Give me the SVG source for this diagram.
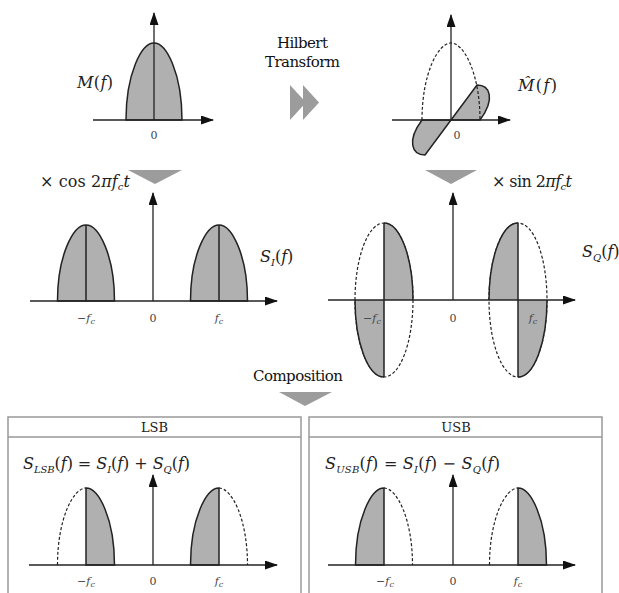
<svg xmlns="http://www.w3.org/2000/svg" width="619" height="593" viewBox="0 0 619 593">
<style>
.ax{stroke:#222;stroke-width:1.3;fill:none}
.ln{stroke:#222;stroke-width:1.5;fill:none}
.ds{stroke:#222;stroke-width:1.2;fill:none;stroke-dasharray:3 2}
.gf{fill:#b0b0b0;stroke:#222;stroke-width:1.5}
.gn{fill:#b0b0b0;stroke:none}
.tri{fill:#9c9c9c}
.box{fill:none;stroke:#999;stroke-width:1.5}
text{font-family:'DejaVu Serif','Liberation Serif',serif}
.m{font-style:italic;font-size:16px;fill:#222}
.r{font-size:15px;fill:#111}
.h{font-size:13px;fill:#222;text-anchor:middle}
.t{font-size:11px;fill:#444;text-anchor:middle}
</style>
<defs>
<marker id="ah" viewBox="0 0 13 9" refX="12" refY="4.5" markerWidth="13" markerHeight="9" markerUnits="userSpaceOnUse" orient="auto"><path d="M0,0 L13,4.5 L0,9 z" fill="#111"/></marker>
</defs>
<rect width="619" height="593" fill="#fff"/>

<g id="connectors">
<polygon class="tri" points="290,85 290,120 306,102.5"/>
<polygon class="tri" points="303,85 303,120 319,102.5"/>
<polygon class="tri" points="128,170 182,170 155,184"/>
<polygon class="tri" points="425,170 477,170 451,184"/>
<polygon class="tri" points="279,392 332,392 305,406"/>
</g>

<g id="hilbert-label">
<text class="r" x="277" y="48" textLength="51">Hilbert</text>
<text class="r" x="265" y="67" textLength="75">Transform</text>
</g>

<g id="node-M">
<path class="gf" d="M126,120 C126,73.8 141.4,43 154,43 C166.6,43 182,73.8 182,120 Z"/>
<line class="ax" x1="154" y1="120" x2="154" y2="13" marker-end="url(#ah)"/>
<line class="ax" x1="93" y1="120" x2="213" y2="120" marker-end="url(#ah)"/>
<text class="m" x="77" y="88" textLength="36">M<tspan font-style="normal">(</tspan>f<tspan font-style="normal">)</tspan></text>
<text class="t" x="154" y="139">0</text>
</g>

<g id="node-Mhat">
<path class="gf" d="M451,120 L477,85 C490,85 495.6,99 480,120 Z"/>
<path class="gf" d="M451,120 L425,155 C412,155 406.4,141 422,120 Z"/>
<path class="ds" d="M422,120 C422,73.8 438,43 451,43 C464,43 480,73.8 480,120"/>
<line class="ax" x1="451" y1="120" x2="451" y2="15" marker-end="url(#ah)"/>
<line class="ax" x1="392" y1="120" x2="510" y2="120" marker-end="url(#ah)"/>
<text class="m" x="518" y="91" textLength="39">M&#x302;<tspan font-style="normal">(</tspan>f<tspan font-style="normal">)</tspan></text>
<text class="t" x="457" y="139">0</text>
</g>

<g id="node-SI">
<text class="m" x="40" y="187" textLength="90" font-size="15"><tspan font-style="normal">× cos 2</tspan>πf<tspan font-size="10" dy="3">c</tspan><tspan dy="-3">t</tspan></text>
<path class="gf" d="M57.5,301 C57.5,255.4 73.2,225 86,225 C98.8,225 114.5,255.4 114.5,301 Z"/>
<path class="gf" d="M190.5,301 C190.5,255.4 206.2,225 219,225 C231.8,225 247.5,255.4 247.5,301 Z"/>
<line class="ln" x1="86" y1="225" x2="86" y2="301"/>
<line class="ln" x1="219" y1="225" x2="219" y2="301"/>
<line class="ax" x1="153" y1="301" x2="153" y2="193" marker-end="url(#ah)"/>
<line class="ax" x1="30" y1="301" x2="277" y2="301" marker-end="url(#ah)"/>
<text class="m" x="260" y="262">S<tspan font-size="10" dy="4">I</tspan><tspan dy="-4" font-style="normal">(</tspan>f<tspan font-style="normal">)</tspan></text>
<text class="t" x="86" y="322">−<tspan font-style="italic">f</tspan><tspan font-style="italic" font-size="8" dy="2">c</tspan></text>
<text class="t" x="153" y="322">0</text>
<text class="t" x="219" y="322"><tspan font-style="italic">f</tspan><tspan font-style="italic" font-size="8" dy="2">c</tspan></text>
</g>

<g id="node-SQ">
<text class="m" x="492" y="187" textLength="80" font-size="15"><tspan font-style="normal">× sin 2</tspan>πf<tspan font-size="10" dy="3">c</tspan><tspan dy="-3">t</tspan></text>
<ellipse class="ds" cx="384" cy="300" rx="29" ry="77"/>
<ellipse class="ds" cx="518" cy="300" rx="29" ry="77"/>
<path class="gn" d="M384,300 L384,223 A29,77 0 0 1 413,300 Z"/>
<path class="gn" d="M384,300 L384,377 A29,77 0 0 1 355,300 Z"/>
<path class="gn" d="M518,300 L518,223 A29,77 0 0 0 489,300 Z"/>
<path class="gn" d="M518,300 L518,377 A29,77 0 0 0 547,300 Z"/>
<path class="ln" d="M384,223 A29,77 0 0 1 413,300"/>
<path class="ln" d="M384,377 A29,77 0 0 1 355,300"/>
<path class="ln" d="M518,223 A29,77 0 0 0 489,300"/>
<path class="ln" d="M518,377 A29,77 0 0 0 547,300"/>
<line class="ln" x1="384" y1="223" x2="384" y2="377"/>
<line class="ln" x1="518" y1="223" x2="518" y2="377"/>
<line class="ax" x1="453" y1="300" x2="453" y2="193" marker-end="url(#ah)"/>
<line class="ax" x1="328" y1="300" x2="575" y2="300" marker-end="url(#ah)"/>
<text class="m" x="582" y="257">S<tspan font-size="10" dy="4">Q</tspan><tspan dy="-4" font-style="normal">(</tspan>f<tspan font-style="normal">)</tspan></text>
<text class="t" x="372" y="322">−<tspan font-style="italic">f</tspan><tspan font-style="italic" font-size="8" dy="2">c</tspan></text>
<text class="t" x="453" y="322">0</text>
<text class="t" x="533" y="322"><tspan font-style="italic">f</tspan><tspan font-style="italic" font-size="8" dy="2">c</tspan></text>
</g>

<g id="composition-label">
<text class="r" x="253" y="381" textLength="90">Composition</text>
</g>

<g id="node-LSB">
<rect class="box" x="8" y="417" width="293" height="200"/>
<line class="box" x1="8" y1="437" x2="301" y2="437"/>
<text class="h" x="154.5" y="432">LSB</text>
<text class="m" x="23" y="469" textLength="167"><tspan>S</tspan><tspan font-size="10" dy="4">LSB</tspan><tspan dy="-4" font-style="normal">(</tspan>f<tspan font-style="normal">) = </tspan>S<tspan font-size="10" dy="4">I</tspan><tspan dy="-4" font-style="normal">(</tspan>f<tspan font-style="normal">) + </tspan>S<tspan font-size="10" dy="4">Q</tspan><tspan dy="-4" font-style="normal">(</tspan>f<tspan font-style="normal">)</tspan></text>
<path class="ds" d="M57.5,565 C57.5,518.8 73.2,488 86,488"/>
<path class="gf" d="M86,565 L86,488 C98.8,488 114.5,518.8 114.5,565 Z"/>
<path class="gf" d="M219,565 L219,488 C206.2,488 190.5,518.8 190.5,565 Z"/>
<path class="ds" d="M219,488 C231.8,488 247.5,518.8 247.5,565"/>
<line class="ax" x1="153" y1="565" x2="153" y2="475" marker-end="url(#ah)"/>
<line class="ax" x1="29" y1="565" x2="277" y2="565" marker-end="url(#ah)"/>
<text class="t" x="86" y="585">−<tspan font-style="italic">f</tspan><tspan font-style="italic" font-size="8" dy="2">c</tspan></text>
<text class="t" x="153" y="585">0</text>
<text class="t" x="219" y="585"><tspan font-style="italic">f</tspan><tspan font-style="italic" font-size="8" dy="2">c</tspan></text>
</g>

<g id="node-USB">
<rect class="box" x="309" y="417" width="293" height="200"/>
<line class="box" x1="309" y1="437" x2="602" y2="437"/>
<text class="h" x="456" y="432">USB</text>
<text class="m" x="325" y="469" textLength="175"><tspan>S</tspan><tspan font-size="10" dy="4">USB</tspan><tspan dy="-4" font-style="normal">(</tspan>f<tspan font-style="normal">) = </tspan>S<tspan font-size="10" dy="4">I</tspan><tspan dy="-4" font-style="normal">(</tspan>f<tspan font-style="normal">) − </tspan>S<tspan font-size="10" dy="4">Q</tspan><tspan dy="-4" font-style="normal">(</tspan>f<tspan font-style="normal">)</tspan></text>
<path class="gf" d="M384,565 L384,488 C371.2,488 355.5,518.8 355.5,565 Z"/>
<path class="ds" d="M384,488 C396.8,488 412.5,518.8 412.5,565"/>
<path class="ds" d="M489.5,565 C489.5,518.8 505.2,488 518,488"/>
<path class="gf" d="M518,565 L518,488 C530.8,488 546.5,518.8 546.5,565 Z"/>
<line class="ax" x1="453" y1="565" x2="453" y2="475" marker-end="url(#ah)"/>
<line class="ax" x1="328" y1="565" x2="575" y2="565" marker-end="url(#ah)"/>
<text class="t" x="385" y="585">−<tspan font-style="italic">f</tspan><tspan font-style="italic" font-size="8" dy="2">c</tspan></text>
<text class="t" x="453" y="585">0</text>
<text class="t" x="518" y="585"><tspan font-style="italic">f</tspan><tspan font-style="italic" font-size="8" dy="2">c</tspan></text>
</g>
</svg>
